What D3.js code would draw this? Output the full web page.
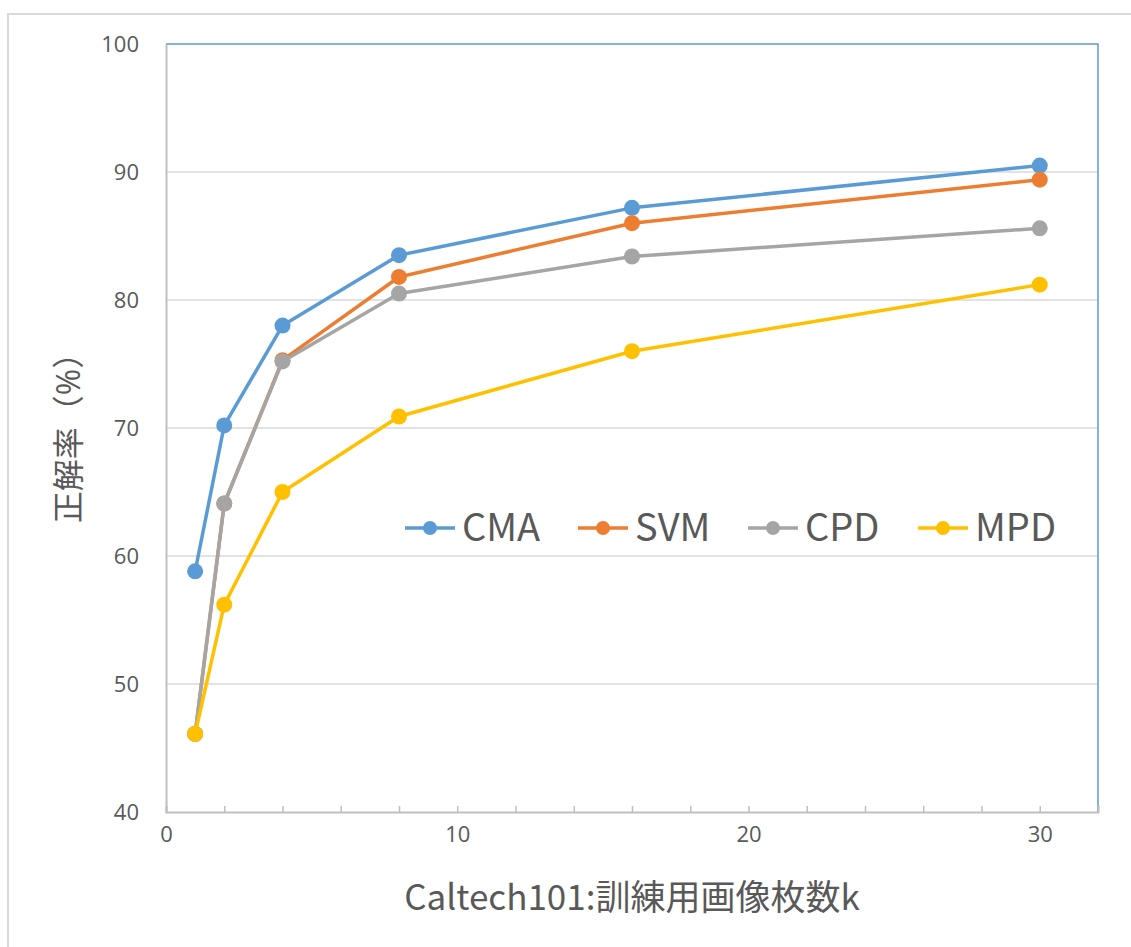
<!DOCTYPE html>
<html><head><meta charset="utf-8">
<script src="https://cdn.jsdelivr.net/npm/d3@7"></script>
<style>body{margin:0;background:#fff}svg{display:block}</style>
</head><body><svg id="c" width="1131" height="947"></svg>
<script>
const kValues = [1, 2, 4, 8, 16, 30];
const seriesNames = ["CMA", "SVM", "CPD", "MPD"];
const cma = [58.8, 70.2, 78.0, 83.5, 87.2, 90.5];
const svm = [46.1, 64.1, 75.3, 81.8, 86.0, 89.4];
const cpd = [46.1, 64.1, 75.2, 80.5, 83.4, 85.6];
const mpd = [46.1, 56.2, 65.0, 70.9, 76.0, 81.2];
const colors = ["#5b9bd5", "#ed7d31", "#a5a5a5", "#ffc000"];
const yTicks = [40, 50, 60, 70, 80, 90, 100];
const xTicks = [0, 10, 20, 30];
const xTitle = "Caltech101:訓練用画像枚数k";
const yTitle = "正解率（%）";

const svg = d3.select("#c");
const L = 166, R = 1098, T = 44, B = 812;
const x = d3.scaleLinear().domain([0, 32]).range([L, R]);
const y = d3.scaleLinear().domain([40, 100]).range([B, T]);
const txt = "#595959";
const font = "'Open Sans', 'Noto Sans CJK JP', sans-serif";
const narrow = "'Liberation Sans Narrow', 'Noto Sans CJK JP', sans-serif";

svg.append("rect").attr("x", 8).attr("y", 14).attr("width", 1140).attr("height", 960)
  .attr("fill", "none").attr("stroke", "#d9d9d9").attr("stroke-width", 2);

svg.append("g").selectAll("line").data(yTicks.filter(d => d > 40 && d < 100)).join("line")
  .attr("x1", L).attr("x2", R).attr("y1", d => y(d)).attr("y2", d => y(d))
  .attr("stroke", "#d9d9d9").attr("stroke-width", 1.5);

svg.append("path").attr("d", `M${L},${T}H${R}V${B}`).attr("fill", "none")
  .attr("stroke", "#5b9bd5").attr("stroke-width", 1.5);

const ya = svg.append("g").attr("transform", `translate(${L},0)`)
  .call(d3.axisLeft(y).tickValues(yTicks).tickSize(0).tickPadding(27));
ya.select(".domain").attr("stroke", "#bfbfbf").attr("stroke-width", 2);
ya.selectAll("text").attr("font-family", font).attr("font-size", 22).attr("fill", txt);

const xa = svg.append("g").attr("transform", `translate(0,${B})`)
  .call(d3.axisBottom(x).tickValues(d3.range(0, 33, 2)).tickSize(-6).tickPadding(14)
    .tickFormat(d => xTicks.includes(d) ? d : ""));
xa.select(".domain").attr("stroke", "#bfbfbf").attr("stroke-width", 2);
xa.selectAll(".tick line").attr("stroke", "#bfbfbf").attr("stroke-width", 1.5);
xa.selectAll("text").attr("font-family", font).attr("font-size", 22).attr("fill", txt);

const allSeries = [cma, svm, cpd, mpd];
const line = d3.line().x((d, i) => x(kValues[i])).y(d => y(d));
[0, 1, 2, 3].forEach(si => {
  const g = svg.append("g");
  g.append("path").datum(allSeries[si]).attr("d", line).attr("fill", "none")
    .attr("stroke", colors[si]).attr("stroke-width", 3.5).attr("stroke-linejoin", "round");
  g.selectAll("circle").data(allSeries[si]).join("circle")
    .attr("cx", (d, i) => x(kValues[i])).attr("cy", d => y(d)).attr("r", 8)
    .attr("fill", colors[si]);
});

const legX = [405, 578, 748, 918];
seriesNames.forEach((n, i) => {
  const g = svg.append("g").attr("transform", `translate(${legX[i]},528)`);
  g.append("line").attr("x1", 0).attr("x2", 50).attr("stroke", colors[i]).attr("stroke-width", 3.5);
  g.append("circle").attr("cx", 25).attr("r", 7).attr("fill", colors[i]);
  g.append("text").attr("x", 57).attr("y", 13).text(n)
    .attr("font-family", narrow).attr("font-size", 38).attr("fill", txt);
});

svg.append("text").attr("x", 632).attr("y", 910).attr("text-anchor", "middle")
  .attr("font-family", narrow).attr("font-size", 35).attr("fill", txt).text(xTitle);
svg.append("text").attr("transform", "translate(80,430) rotate(-90)").attr("text-anchor", "middle")
  .attr("font-family", font).attr("font-size", 32).attr("fill", txt).text(yTitle);
</script></body></html>
